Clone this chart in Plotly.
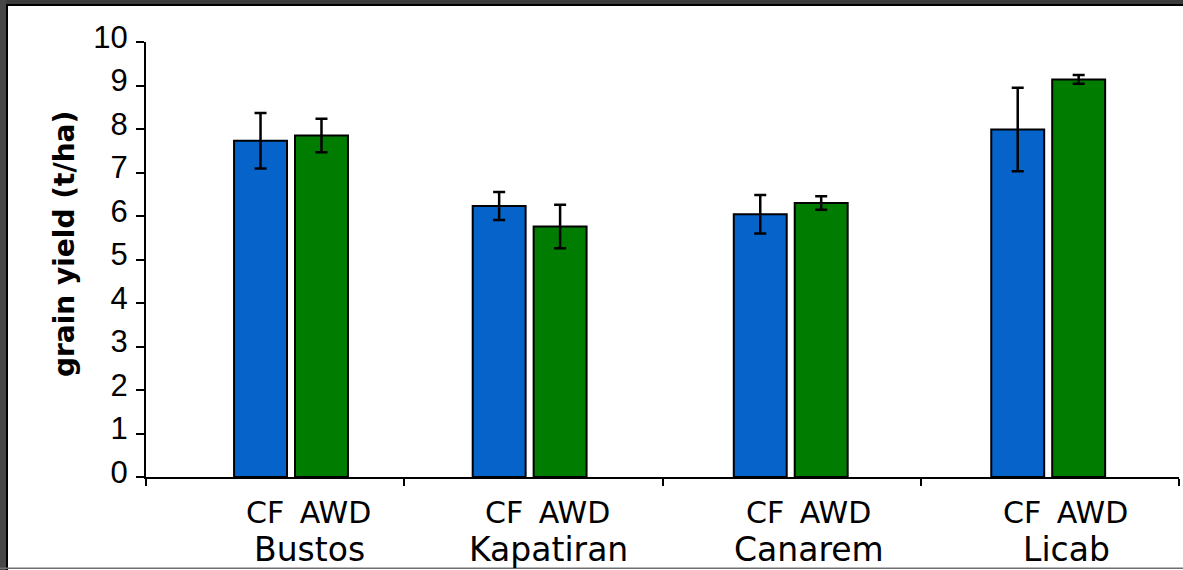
import plotly.graph_objects as go

# Grain yield by site and water regime
sites = ["Bustos", "Kapatiran", "Canarem", "Licab"]
treatments = ["CF", "AWD"]
cf_yield = [7.73, 6.23, 6.04, 7.99]
cf_err = [0.64, 0.32, 0.44, 0.96]
awd_yield = [7.85, 5.76, 6.30, 9.14]
awd_err = [0.385, 0.50, 0.155, 0.10]
y_ticks = [0, 1, 2, 3, 4, 5, 6, 7, 8, 9, 10]

# page / plot-area geometry (pixels)
W, H = 1183, 570
L, R, T, B = 146, 4, 42, 93
PW, PH = W - L - R, H - T - B

# group centres on the 0..4 site axis
site_pos = [0.563, 1.487, 2.498, 3.495]
BAR_W = 0.205

BLUE = "#0563C9"
GREEN = "#007D00"


def px_x(px):
    return (px - L) / PW


def px_y(py):
    return (H - B - py) / PH


fig = go.Figure()
fig.add_trace(go.Bar(
    x=site_pos, y=cf_yield, name=treatments[0],
    width=BAR_W, offset=-0.222,
    marker=dict(color=BLUE, line=dict(color="black", width=2)),
    error_y=dict(type="data", array=cf_err, color="black", thickness=2.5, width=6),
))
fig.add_trace(go.Bar(
    x=site_pos, y=awd_yield, name=treatments[1],
    width=BAR_W, offset=0.014,
    marker=dict(color=GREEN, line=dict(color="black", width=2)),
    error_y=dict(type="data", array=awd_err, color="black", thickness=2.5, width=6),
))

annotations = []
label_font = "DejaVu Sans"
for pos, site in zip(site_pos, sites):
    annotations.append(dict(
        x=pos, y=px_y(512), xref="x", yref="paper", xshift=17,
        text=treatments[0] + "\u00a0\u2009" + treatments[1], showarrow=False,
        font=dict(family=label_font, size=30, color="black"),
        xanchor="center", yanchor="middle",
    ))
    annotations.append(dict(
        x=pos, y=px_y(549), xref="x", yref="paper", xshift=18,
        text=site, showarrow=False,
        font=dict(family=label_font, size=33, color="black"),
        xanchor="center", yanchor="middle",
    ))

annotations.append(dict(
    x=px_x(65), y=px_y(244), xref="paper", yref="paper",
    text="<b>grain yield (t/ha)</b>", showarrow=False, textangle=-90,
    font=dict(family="DejaVu Sans", size=28, color="black"),
    xanchor="center", yanchor="middle",
))

# slide frame
shapes = [
    dict(type="rect", xref="paper", yref="paper", layer="above",
         x0=px_x(0), x1=px_x(W), y0=px_y(0), y1=px_y(4),
         fillcolor="#3c3c3c", line=dict(width=0)),
    dict(type="rect", xref="paper", yref="paper", layer="above",
         x0=px_x(0), x1=px_x(W), y0=px_y(4), y1=px_y(6),
         fillcolor="#000000", line=dict(width=0)),
    dict(type="rect", xref="paper", yref="paper", layer="above",
         x0=px_x(0), x1=px_x(6), y0=px_y(0), y1=px_y(H),
         fillcolor="#474747", line=dict(width=0)),
    dict(type="rect", xref="paper", yref="paper", layer="above",
         x0=px_x(6), x1=px_x(8), y0=px_y(4), y1=px_y(H),
         fillcolor="#000000", line=dict(width=0)),
    dict(type="rect", xref="paper", yref="paper", layer="above",
         x0=px_x(0), x1=px_x(W), y0=px_y(567.5), y1=px_y(569),
         fillcolor="#707070", line=dict(width=0)),
]

fig.update_layout(
    width=W, height=H,
    margin=dict(l=L, r=R, t=T, b=B, pad=0),
    barmode="overlay",
    showlegend=False,
    plot_bgcolor="white", paper_bgcolor="white",
    annotations=annotations,
    shapes=shapes,
    font=dict(family="Liberation Sans", color="black"),
)
fig.update_xaxes(
    range=[0, 4], tickvals=[0, 1, 2, 3, 4], showticklabels=False,
    ticks="outside", ticklen=7, tickwidth=2, tickcolor="black",
    showline=True, linecolor="black", linewidth=2,
    showgrid=False, zeroline=False,
)
fig.update_yaxes(
    range=[0, 10], tickvals=y_ticks, ticktext=[str(v) for v in y_ticks],
    ticks="outside", ticklen=8, tickwidth=2, tickcolor="black",
    tickfont=dict(family="Liberation Sans", size=31, color="black"),
    ticklabelstandoff=2, ticklabelshift=-5,
    showline=True, linecolor="black", linewidth=2,
    showgrid=False, zeroline=False,
)

fig.write_html("out.html")
